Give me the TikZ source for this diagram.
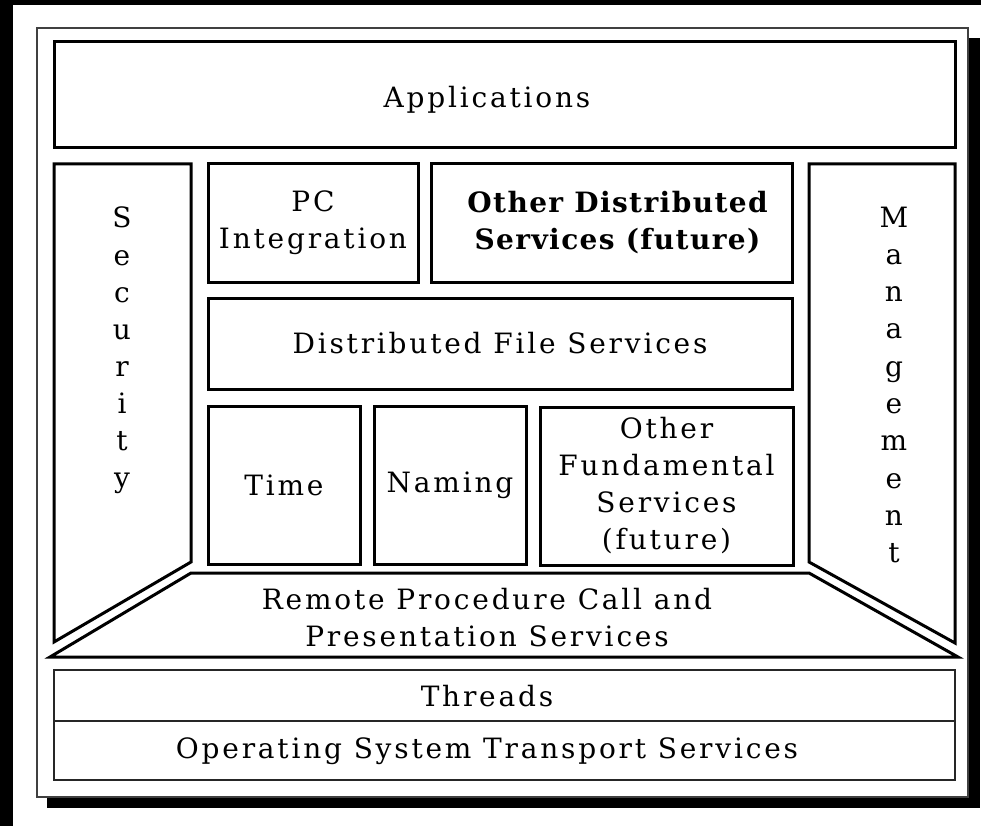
\documentclass[tikz,border=0pt]{standalone}
\usepackage{fontspec}
\setmainfont{DejaVu Serif}
\newfontfamily\spaced{DejaVu Serif}[LetterSpace=10]
\newfontfamily\spacedbold{DejaVu Serif}[LetterSpace=5]
\usetikzlibrary{positioning}
\newcommand{\lblfont}{\fontsize{28}{37}\selectfont\spaced}

\tikzset{
  layer/.style={draw, line width=3pt, inner sep=0pt, align=center, font=\lblfont},
  slab/.style={draw, line width=3pt, line join=miter},
  thinslab/.style={draw=black!85, line width=2pt},
  caption/.style={inner sep=0pt, align=center, font=\lblfont},
  letter/.style={anchor=base, inner sep=0pt, font=\fontsize{28}{37}\selectfont},
}

\begin{document}
\begin{tikzpicture}[x=1pt, y=-1pt]
  \useasboundingbox (0,0) rectangle (981,826);
  \fill[white] (0,0) rectangle (981,826);
  % scanner edges
  \fill[black] (0,0) rectangle (981,5);
  \fill[black] (0,0) rectangle (13,826);

  % outer frame and its shadow
  \fill[black] (47,38) rectangle (980,808);
  \draw[draw=black!75, line width=2pt, fill=white] (37,28) rectangle (968,797);

  \draw[slab] (54,42) rectangle (955,148);
  \node[caption] (apps) at (487,100) {Applications};

  % upper services
  \node[layer, minimum width=210pt, minimum height=118pt] (pc) at (313,223) {PC\\Integration};
  \node[layer, minimum width=361pt, minimum height=118pt, font=\fontsize{28}{37}\selectfont\spacedbold\bfseries] (ods) at (611.5,223) {\hspace*{12pt}Other Distributed\\\hspace*{12pt}Services (future)};
  \node[layer, minimum width=584pt, minimum height=91pt] (dfs) at (500,343.5) {Distributed File Services};

  % fundamental services
  \node[layer, minimum width=152pt, minimum height=158pt] (time) at (284,485) {Time};
  \node[layer, minimum width=152pt, minimum height=158pt] (naming) at (450,485) {Naming};
  \node[layer, minimum width=253pt, minimum height=158pt] (ofs) at (666.5,486) {Other\\Fundamental\\Services\\(future)};

  % side pillars and rpc floor
  \draw[slab] (54,164) -- (191,164) -- (191,562) -- (54,642) -- cycle;
  \draw[slab] (809,164) -- (955,164) -- (955,643) -- (809,562) -- cycle;
  \draw[slab] (191,573) -- (809,573) -- (958,657) -- (50,657) -- cycle;
  \node[caption] (rpc) at (487,618) {Remote Procedure Call and\\Presentation Services};

  \foreach \c [count=\i] in {S,e,c,u,r,i,t,y}
    \node[letter] (sec\i) at (122,228+37*\i-37) {\c};
  \foreach \c [count=\i] in {M,a,n,a,g,e,m,e,n,t}
    \node[letter] (mgt\i) at (894,227+37.3*\i-37.3) {\c};

  % threads and transport
  \draw[thinslab] (54,670) rectangle (955,780);
  \draw[thinslab] (54,721) -- (955,721);
  \node[caption] (thr) at (487,696) {Threads};
  \node[caption] (ost) at (487,751) {Operating System Transport Services};
\end{tikzpicture}
\end{document}
